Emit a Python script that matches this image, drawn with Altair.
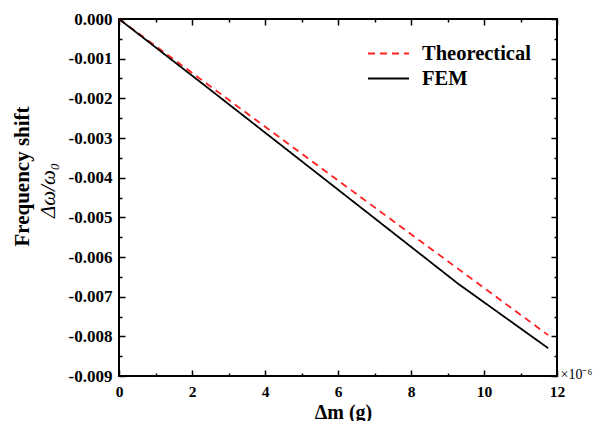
import altair as alt
import pandas as pd

# Data (x in units of 1e-6 g)
series_names = ["Theorectical", "FEM"]
theo_x = [0.0, 6.0, 11.76]
theo_y = [0.0, -0.00407, -0.00797]
fem_x = [0.0, 2.3, 4.65, 6.97, 9.3, 11.76]
fem_y = [0.0, -0.00164, -0.00333, -0.00500, -0.00668, -0.00830]

x_major = [0, 2, 4, 6, 8, 10, 12]
x_minor = [1, 3, 5, 7, 9, 11]
y_major = [0.0, -0.001, -0.002, -0.003, -0.004, -0.005, -0.006, -0.007, -0.008, -0.009]
y_minor = [-0.0005, -0.0015, -0.0025, -0.0035, -0.0045, -0.0055, -0.0065, -0.0075, -0.0085]

df = pd.concat([
    pd.DataFrame({"x": theo_x, "y": theo_y, "series": series_names[0]}),
    pd.DataFrame({"x": fem_x, "y": fem_y, "series": series_names[1]}),
], ignore_index=True)
df["series_d"] = df["series"]

FONT = "Liberation Serif"
xs = alt.Scale(domain=[0, 12], nice=False, zero=False)
ys = alt.Scale(domain=[-0.009, 0], nice=False, zero=False)

common = dict(grid=False, domain=False, tickColor="black", tickWidth=1.5)


def ax(orient, values, size, **kw):
    d = dict(common)
    d.update(kw)
    return alt.Axis(orient=orient, values=values, offset=-size, tickSize=size, **d)


leg_common = dict(
    orient="none", legendX=248, title=None, padding=0,
    symbolType="stroke", symbolSize=1681, symbolStrokeWidth=2,
    labelFont=FONT, labelFontSize=20.5, labelFontWeight="bold", labelColor="black",
    labelOffset=12,
)
legend_theo = alt.Legend(values=[series_names[0]], legendY=13, symbolDash=[7, 5], **leg_common)
legend_fem = alt.Legend(values=[series_names[1]], legendY=38, symbolStrokeColor="black", **leg_common)

main = alt.Chart(df).mark_line(strokeWidth=1.8).encode(
    x=alt.X("x:Q", scale=xs, axis=ax(
        "bottom", x_major, 6, labelPadding=8, labelFlush=False,
        labelFont=FONT, labelFontSize=15.5, labelFontWeight="bold", labelColor="black",
        title="Δm (g)", titleFont=FONT, titleFontSize=20, titleFontWeight="bold",
        titleColor="black", titleBaseline="top", titleX=224, titleY=32)),
    y=alt.Y("y:Q", scale=ys, axis=ax(
        "left", y_major, 6, labelPadding=7, labelFlush=False,
        labelExpr="replace(format(datum.value, '.3f'), '\u2212', '-')",
        labelFont=FONT, labelFontSize=17, labelFontWeight="bold", labelColor="black",
        title="Frequency shift", titleFont=FONT, titleFontSize=21, titleFontWeight="bold",
        titleColor="black", titleAngle=-90, titleBaseline="alphabetic", titleAlign="center",
        titleX=-97, titleY=157)),
    color=alt.Color("series:N", scale=alt.Scale(domain=series_names, range=["#ff2020", "#000000"]), legend=legend_theo),
    strokeDash=alt.StrokeDash("series_d:N", scale=alt.Scale(domain=[series_names[1], series_names[0]], range=[[1, 0], [7, 5]]), legend=legend_fem),
)

minor_lb = alt.Chart(df).mark_line(opacity=0).encode(
    x=alt.X("x:Q", scale=xs, axis=ax(
        "bottom", x_minor, 3, labels=False,
        title="×10⁻⁶", titleFont=FONT, titleFontSize=14, titleFontWeight="normal",
        titleColor="black", titleAlign="left", titleBaseline="alphabetic", titleX=441, titleY=5)),
    y=alt.Y("y:Q", scale=ys, axis=ax(
        "left", y_minor, 3, labels=False,
        title="Δω/ω₀", titleFont=FONT, titleFontSize=21, titleFontWeight="normal",
        titleFontStyle="italic", titleColor="black", titleAngle=-90,
        titleBaseline="alphabetic", titleAlign="center", titleX=-68, titleY=171)),
    detail="series:N",
)

major_rt = alt.Chart(df).mark_line(opacity=0).encode(
    x=alt.X("x:Q", scale=xs, axis=ax("top", x_major, 6, labels=False, title=None)),
    y=alt.Y("y:Q", scale=ys, axis=ax("right", y_major, 6, labels=False, title=None)),
    detail="series:N",
)

minor_rt = alt.Chart(df).mark_line(opacity=0).encode(
    x=alt.X("x:Q", scale=xs, axis=ax("top", x_minor, 3, labels=False, title=None)),
    y=alt.Y("y:Q", scale=ys, axis=ax("right", y_minor, 3, labels=False, title=None)),
    detail="series:N",
)

chart = alt.layer(main, minor_lb, major_rt, minor_rt).resolve_axis(
    x="independent", y="independent"
).properties(
    width=438, height=357,
    padding={"left": 111, "top": 11, "right": 37, "bottom": 45},
    autosize=alt.AutoSizeParams(type="none"),
    background="white",
).configure_view(stroke="black", strokeWidth=2)

chart.save("out.html", embed_options={"renderer": "svg", "actions": False})
